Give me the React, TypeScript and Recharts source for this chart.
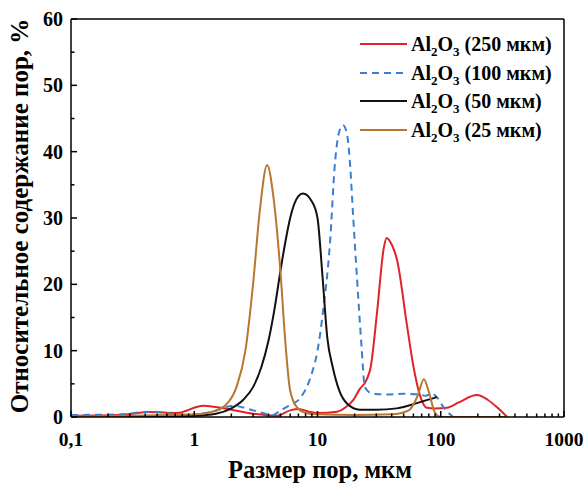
import { LineChart, Line, XAxis, YAxis, ReferenceLine, Label } from "recharts";

// pore size, µm / relative pore content, %
const redX = [0.1, 0.25, 0.44, 0.72, 1.18, 2, 3, 4.7, 6, 7, 8.5, 10, 14.4, 17, 19.4, 22, 25, 27, 30.5, 34.5, 36.4, 40, 44.3, 53.5, 60.2, 67, 77, 90, 112, 140, 196, 240, 285, 346];
const redY = [0.2, 0.3, 0.75, 0.6, 1.7, 1.1, 0.5, 0.2, 1.0, 1.2, 0.8, 0.6, 0.8, 1.5, 2.5, 4.2, 5.6, 7.5, 16, 25.5, 27, 26, 23.6, 13.5, 7.5, 3.6, 1.4, 1.3, 1.4, 2.2, 3.3, 2.6, 1.5, 0];

const blueX = [0.1, 0.25, 0.44, 0.87, 1.4, 2.07, 3, 4.37, 5, 6, 7.2, 9, 10, 11.1, 12.6, 13.9, 15, 16.1, 17.2, 18.3, 19.5, 20.9, 22.8, 24.2, 27.3, 35, 50, 67, 75, 85, 93, 105, 126];
const blueY = [0.3, 0.4, 0.8, 0.3, 0.8, 1.7, 1.0, 0.3, 1.0, 1.8, 2.8, 6.6, 10, 16, 26, 38.6, 43, 44, 43, 38.6, 30, 21, 10.5, 4.5, 3.6, 3.4, 3.5, 3.4, 3.2, 3.5, 3.0, 1.5, 0];

const blackX = [0.1, 0.5, 1, 1.5, 2, 2.5, 3, 3.5, 4, 4.5, 5, 5.5, 6, 7, 7.6, 9, 10, 11, 12, 13.3, 15, 17.4, 22, 30, 44, 67, 93];
const blackY = [0, 0.1, 0.2, 0.5, 1.3, 2.6, 4.5, 7.5, 11.5, 16.5, 22, 26.5, 30, 33.3, 33.7, 32.5, 30, 21, 12, 7.5, 4, 2, 1.1, 1.1, 1.3, 2.2, 3];

const brownX = [0.1, 0.3, 0.6, 1, 1.4, 1.8, 2.2, 2.6, 3, 3.4, 3.9, 4.4, 5, 5.5, 6, 7, 8, 10, 20, 40, 55, 65, 73, 80, 90, 100, 200, 350];
const brownY = [0.1, 0.2, 0.3, 0.4, 0.8, 1.8, 4.5, 10, 20, 31, 38, 33, 22, 11, 4, 1.2, 0.6, 0.4, 0.3, 0.4, 1, 3.2, 5.7, 3.8, 0.6, 0, 0, 0];

const sizes = ["250", "100", "50", "25"];
const colors = ["#e2222a", "#3a7fcf", "#111111", "#b8762f"];
const dashes = [undefined, "7 5", undefined, undefined];
const xs = [redX, blueX, blackX, brownX];
const ys = [redY, blueY, blackY, brownY];

const xMajor = [0.1, 1, 10, 100, 1000];
const xTicks = [
  ...xMajor.slice(0, 4).flatMap((d) => [1, 2, 3, 4, 5, 6, 7, 8, 9].map((m) => d * m)),
  1000,
];
const yTicks = [0, 5, 10, 15, 20, 25, 30, 35, 40, 45, 50, 55, 60];

const font = "Liberation Serif, Times New Roman, serif";

const series = sizes.map((s, i) => ({
  name: s,
  color: colors[i],
  dash: dashes[i],
  data: xs[i].map((x, j) => ({ x, y: ys[i][j] })),
}));

const fmtX = (v: number) => String(v).replace(".", ",");

function XTick(props: any) {
  const { x, y, payload } = props;
  const major = xMajor.some((m) => Math.abs(m - payload.value) < 1e-9);
  return (
    <g>
      <line x1={x} x2={x} y1={y} y2={y - (major ? 6 : 3.5)} stroke="#000" strokeWidth={1.5} />
      {major && (
        <text x={x} y={y + 29} textAnchor="middle" fontFamily={font} fontWeight="bold" fontSize={19.5} fill="#000">
          {fmtX(payload.value)}
        </text>
      )}
    </g>
  );
}

function YTick(props: any) {
  const { x, y, payload } = props;
  const major = payload.value % 10 === 0;
  return (
    <g>
      <line x1={x} x2={x + (major ? 6 : 3.5)} y1={y} y2={y} stroke="#000" strokeWidth={1.5} />
      {major && (
        <text x={x - 8} y={y + 7} textAnchor="end" fontFamily={font} fontWeight="bold" fontSize={20} fill="#000">
          {payload.value}
        </text>
      )}
    </g>
  );
}

function LegendBox() {
  return (
    <div
      style={{
        position: "absolute",
        left: 360,
        top: 30,
        fontFamily: font,
        fontWeight: "bold",
        fontSize: 20,
        color: "#000",
      }}
    >
      {series.map((s) => (
        <div key={s.name} style={{ display: "flex", alignItems: "center", height: 28.5 }}>
          <svg width={47} height={10} style={{ marginRight: 4 }}>
            <line x1={0} x2={47} y1={5} y2={5} stroke={s.color} strokeWidth={2} strokeDasharray={s.dash} />
          </svg>
          <span style={{ whiteSpace: "nowrap", lineHeight: "22px" }}>
            Al<sub style={{ fontSize: 13, lineHeight: 0 }}>2</sub>O<sub style={{ fontSize: 13, lineHeight: 0 }}>3</sub> ({s.name} мкм)
          </span>
        </div>
      ))}
    </div>
  );
}

export default function App() {
  return (
    <div style={{ position: "absolute", left: 0, top: 0, width: 587, height: 485, background: "#fff" }}>
      <LineChart width={587} height={485} margin={{ top: 19, right: 23, bottom: 0, left: 0 }}>
        <XAxis
          dataKey="x"
          type="number"
          scale="log"
          domain={[0.1, 1000]}
          allowDataOverflow
          ticks={xTicks}
          interval={0}
          tick={<XTick />}
          tickLine={false}
          tickSize={0}
          tickMargin={0}
          height={68}
          axisLine={{ stroke: "#000", strokeWidth: 1.5 }}
        >
          <Label
            content={() => (
              <text x={320} y={478} textAnchor="middle" fontFamily={font} fontWeight="bold" fontSize={24.5} fill="#000">
                Размер пор, мкм
              </text>
            )}
          />
        </XAxis>
        <YAxis
          dataKey="y"
          type="number"
          domain={[0, 60]}
          allowDataOverflow
          ticks={yTicks}
          interval={0}
          tick={<YTick />}
          tickLine={false}
          tickSize={0}
          tickMargin={0}
          width={71}
          axisLine={{ stroke: "#000", strokeWidth: 1.5 }}
        >
          <Label
            content={() => (
              <text
                x={0}
                y={0}
                transform="translate(28 216) rotate(-90)"
                textAnchor="middle"
                fontFamily={font}
                fontWeight="bold"
                fontSize={25}
                fill="#000"
              >
                Относительное содержание пор, %
              </text>
            )}
          />
        </YAxis>
        <ReferenceLine y={60} stroke="#000" strokeWidth={1.5} />
        <ReferenceLine x={1000} stroke="#000" strokeWidth={1.5} />
        {series.map((s) => (
          <Line
            key={s.name}
            data={s.data}
            dataKey="y"
            type="monotone"
            stroke={s.color}
            strokeWidth={2}
            strokeDasharray={s.dash}
            dot={false}
            isAnimationActive={false}
          />
        ))}
      </LineChart>
      <LegendBox />
    </div>
  );
}
